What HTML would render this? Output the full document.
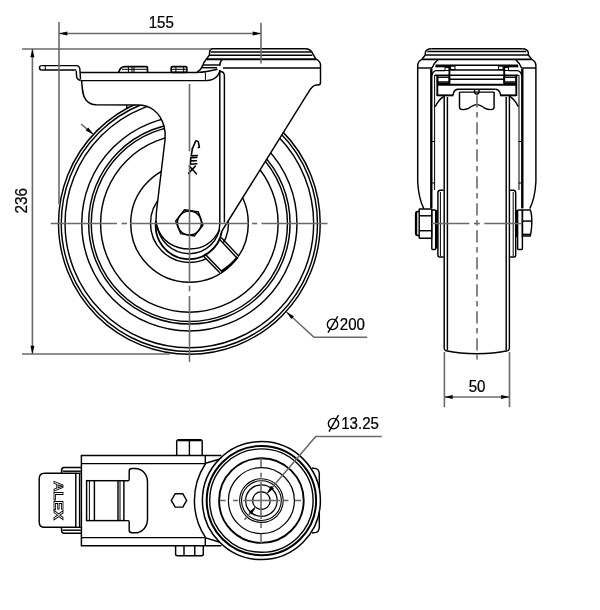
<!DOCTYPE html>
<html><head><meta charset="utf-8"><title>Castor drawing</title>
<style>
html,body{margin:0;padding:0;background:#fff;width:600px;height:610px;overflow:hidden}
svg{display:block;will-change:transform}
.k{stroke:#000;stroke-width:1.45;fill:none}
.kt{stroke:#000;stroke-width:1.9;fill:none}
.kn{stroke:#000;stroke-width:1;fill:none}
.w{fill:#fff;stroke:none}
.e{stroke:#6a6a6a;stroke-width:1.6;fill:none}
.dl{stroke:#6a6a6a;stroke-width:1.6;fill:none}
.c{stroke:#6a6a6a;stroke-width:1.6;fill:none}
.t{font-family:"Liberation Sans",sans-serif;font-size:15.8px;fill:#000;stroke:#000;stroke-width:0.25px}
</style></head>
<body>
<svg width="600" height="610" viewBox="0 0 600 610">
<defs>
  <path id="ah" d="M0,0 L-8.3,-2 L-8.3,2 Z" fill="#000"/>
</defs>

<!-- ================= SIDE VIEW ================= -->
<g id="wheel">
  <circle class="k" cx="189.35" cy="223.4" r="130.85"/>
  <circle class="k" cx="189.35" cy="223.4" r="128.1"/>
  <circle class="k" cx="189.35" cy="223.4" r="124.3"/>
  <circle class="k" cx="189.35" cy="223.4" r="107.6"/>
  <circle class="k" cx="189.35" cy="223.4" r="100.7"/>
  <circle class="k" cx="189.35" cy="223.4" r="98.1"/>
  <circle class="k" cx="189.35" cy="223.4" r="88.75"/>
  <circle class="k" cx="189.5" cy="223.4" r="58.8"/>
  <circle class="k" cx="189.5" cy="223.4" r="39"/>
</g>

<!-- fork occluder -->
<path class="w" d="M80.5,72 L81.6,80.6 C82.4,90 82.5,96 86,100 C88.5,103 91,104.6 96,104.8 L138,105 C150,105 160,112 164,126 C165.6,132 165.4,136 165,140 L156.4,212 L155.9,222.2 A33.3,33.3 0 0 0 221.9,231 L308,93 C310,89.5 312,85.5 316,85 L320.5,85 L320.5,64 C320,61 318.5,60 316,59.2 L312.8,54 C311,50 308,48.7 304.8,48.7 L212.7,48.7 C210.5,49 209.7,50.5 209.7,52 L209.3,55.3 L206.3,59.3 C204.5,62 203,64.7 203,64.7 L200,70.7 L197,72 Z"/>

<!-- plate & tab -->
<path class="k" d="M41.5,65.6 L76.2,65.6 C78.5,65.6 80,67.5 80,70.8 L80.5,79.5"/>
<path class="k" d="M41.5,70 L75.6,70 C76.2,70.5 76.2,71 76.2,70.8 L76.7,77.3 C77.2,79 78.5,80 80.5,80.5"/>
<path class="k" d="M41.5,65.6 C40,65.6 39.5,66.5 39.5,67.8 C39.5,69.2 40,70 41.5,70"/>
<line class="kn" x1="45.3" y1="65.6" x2="45.3" y2="70"/>
<line class="k" x1="80.5" y1="72.4" x2="198.3" y2="72.4"/>
<line class="k" x1="80.5" y1="80.6" x2="205.8" y2="80.6"/>
<!-- leg left outline -->
<path class="k" d="M81.6,80.6 C82.4,90 82.5,96 86,100 C88.5,103 91,104.6 96,104.8 L138,105 C150,105 160,112 164,126 C165.6,132 165.4,136 165,140 L156.4,212 L155.9,222.2"/>
<line class="k" x1="126.6" y1="105" x2="126.9" y2="108.6"/>
<!-- plate end curling up into housing -->
<path class="k" d="M198.3,72.4 C203,72.2 210,71 217.5,69.2"/>
<path class="k" d="M205.8,80.6 C210,80.6 215,79 217.5,75.8 C219,73.5 220,71.5 220,70"/>
<line class="kn" x1="205.4" y1="72.4" x2="205.4" y2="80.6"/>
<line class="k" x1="203" y1="65" x2="220.3" y2="65"/>
<line class="k" x1="202" y1="67.7" x2="217" y2="67.7"/>

<!-- bolts on plate -->
<path stroke="#000" stroke-width="1.7" fill="none" d="M118.5,72.4 C119.5,69 121.5,66.6 125,66.6 L146.5,66.6 C147.3,66.6 147.5,67.5 147.5,68 L147.5,72.4"/>
<line class="kn" x1="122" y1="69.3" x2="147.5" y2="69.3"/>
<line class="kn" x1="128.4" y1="66.6" x2="128.4" y2="72.4"/>
<line class="kn" x1="132" y1="66.6" x2="132" y2="72.4"/>
<line class="kn" x1="134" y1="66.6" x2="134" y2="72.4"/>
<rect stroke="#000" stroke-width="1.7" fill="none" x="171.2" y="66.6" width="15.6" height="5.8" rx="1.2"/>
<line class="kn" x1="175.9" y1="66.6" x2="175.9" y2="72.4"/>
<line class="kn" x1="183.7" y1="66.6" x2="183.7" y2="72.4"/>
<line class="kn" x1="171.2" y1="69.3" x2="186.8" y2="69.3"/>

<!-- housing cap -->
<path class="k" d="M206.3,59.3 L209.3,55.3 L209.7,52 C209.7,50.2 210.8,48.7 212.7,48.7 L304.8,48.7 C309,48.7 312,51 312.8,54 L316,59.2"/>
<line class="k" x1="211" y1="52" x2="311.2" y2="52"/>
<line class="k" x1="209.3" y1="55.3" x2="312.3" y2="55.3"/>
<line class="kt" x1="206.3" y1="59.3" x2="316" y2="59.3"/>
<path class="k" d="M206.3,59.3 C204.5,61.5 203.5,63 203,64.7 C202,67.5 201,69.8 197,72.2"/>
<path class="k" d="M316,59.2 C318.5,60.5 320.5,62 320.5,65 L320.5,82.5 C320.5,84.2 319.5,85 318,85 L316,85 C312,85.5 310,89.5 308,93 L221.9,231"/>
<line class="k" x1="223" y1="68" x2="320.5" y2="68"/>
<path class="k" d="M222.3,59.5 C220.5,61 219.7,63 219.7,65.7"/>
<!-- fork front edge (bend) -->
<path class="k" d="M219.8,70 L219.8,223.4 A30.3,30.3 0 0 1 189.5,253.7 C172,253.7 158.5,241 156.3,222.5"/>
<path class="k" d="M220,71.5 C222.5,71.5 224.4,73 224.4,76 L224.4,222.5"/>

<!-- rib at lower right of hub -->
<path class="w" d="M219,238.8 L238.6,255.9 L237.7,257.1 A58.8,58.8 0 0 1 221.2,271.5 L219.8,272.8 L202.9,255.4 L204.7,253.7 Z"/>
<line class="k" x1="219" y1="238.8" x2="236.5" y2="257.5"/>
<line class="k" x1="221.2" y1="237.6" x2="238.6" y2="255.9"/>
<line class="k" x1="204.7" y1="253.7" x2="221.6" y2="271.2"/>
<line class="k" x1="202.9" y1="255.4" x2="219.8" y2="272.8"/>
<path stroke="#000" stroke-width="2.4" fill="none" d="M221.2,271.5 A58.8,58.8 0 0 0 237.7,257.1"/>

<!-- hub arcs (leg bottom) -->
<path stroke="#000" stroke-width="1.8" fill="none" d="M156.2,221 L155.9,222.2 A33.3,33.3 0 0 0 221.9,231"/>
<path class="k" d="M157,226 C161,241 174,249 189.5,249 C204,249 214,241 219.8,229.5"/>
<!-- hex nut -->
<polygon class="k" points="184.5,209.7 198.3,212 203,225 194.3,236 180.7,233.7 175.7,221"/>
<circle class="k" cx="189.4" cy="223" r="12"/>

<!-- ALEX logo on leg -->
<g stroke="#000" stroke-width="1.6" fill="none" stroke-linejoin="round" stroke-linecap="round">
  <path d="M192.4,148.6 L195.8,140.8 L198.2,141.5 L199.4,147.2 L198.4,147.6"/>
  <path d="M192.4,148.6 L191.2,155.8 L197.4,155.5"/>
  <path d="M196.8,157.4 L190.8,157.6 L190.4,164.2 L196.8,163.8 M190.8,160.9 L196.3,160.7"/>
  <path d="M189.3,166 L196.4,173.8 M195.4,166 L188.6,173.4"/>
</g>

<!-- centerlines side view -->
<g class="c">
  <line x1="50.8" y1="223.5" x2="117" y2="223.5"/>
  <line x1="121.5" y1="223.5" x2="127" y2="223.5"/>
  <line x1="129.8" y1="223.5" x2="248.8" y2="223.5"/>
  <line x1="252" y1="223.5" x2="257.2" y2="223.5"/>
  <line x1="261.4" y1="223.5" x2="327.6" y2="223.5"/>
  <line x1="189.5" y1="84" x2="189.5" y2="151.4"/>
  <line x1="189.5" y1="164.6" x2="189.5" y2="282.3"/>
  <line x1="189.5" y1="285.7" x2="189.5" y2="291.3"/>
  <line x1="189.5" y1="296.1" x2="189.5" y2="361.8"/>
</g>

<!-- ================= RIGHT VIEW ================= -->
<g id="rvL">
  <!-- cap left end -->
  <path class="k" d="M431.3,48.7 C428,48.7 425.3,50.5 425.3,52.7 L425.3,55 L422,59.3"/>
  <!-- outer leg -->
  <path class="k" d="M422,59.3 C419,60.5 417.7,62.5 417.7,66 L417.7,182 C418.5,196 421,203 423.8,208.6"/>
  <line class="k" x1="417.7" y1="68" x2="432" y2="68"/>
  <path class="k" d="M432,68 C433.5,64.5 435,62 438,59.6"/>
  <line stroke="#000" stroke-width="2.4" x1="431.3" y1="68.5" x2="431.3" y2="208.4"/>
  <line class="kn" x1="434.6" y1="75" x2="434.6" y2="190"/>
  <line class="kn" x1="432" y1="141.5" x2="435" y2="141.5"/>
  <line class="kn" x1="432" y1="183" x2="435" y2="183"/>
  <!-- mechanism (left part) -->
  <line class="k" x1="435.3" y1="66.6" x2="449.4" y2="66.6"/>
  <rect class="kn" x="445" y="67.6" width="4.4" height="2.9"/>
  <rect class="kn" x="450.6" y="66.2" width="4.4" height="3.3"/>
  <path class="k" d="M431.8,75.5 C432.5,72.5 434,70.8 436.5,70.6 L445,70.6"/>
  <rect class="k" x="437.6" y="77.2" width="11.8" height="4.8"/>
  <line class="k" x1="437.6" y1="83.3" x2="449.4" y2="83.3"/>
  <line class="kt" x1="449.4" y1="66" x2="449.4" y2="85"/>
  <line class="kt" x1="437.3" y1="75.5" x2="437.3" y2="96"/>
  <!-- lower block -->
  <path class="k" d="M437.3,95.5 L452.8,95.5 L453.7,92.5 C454.5,90.5 455.8,89.4 458,89.2"/>
  <line stroke="#000" stroke-width="1.6" x1="437.3" y1="95.3" x2="452.8" y2="95.3"/>
  <path class="k" d="M459.5,92.1 L459.5,107.3 C459.5,108.8 460.8,109.6 462.8,109.6 C465,109.6 467,109.2 468.5,108.4 C471,106.5 473.5,104.6 476.8,104.6"/>
  <!-- tyre -->
  <path class="k" d="M435.3,106.7 C437.5,102 440.5,98.5 444.2,96.2"/>
  <path class="k" d="M444.2,96.2 L444.2,348 C444.2,350 445,350.5 446,350.8"/>
  <line class="k" x1="447.4" y1="97" x2="447.4" y2="350.2"/>
  <!-- hub boss, washer, nut -->
  <path class="k" d="M443.5,257 L439.5,257 C438.5,257 437.9,256 437.9,255 L437.9,193 C437.9,191.2 438.8,190.3 440.3,190.3 L443.5,190.3"/>
  <line class="kn" x1="440.4" y1="192" x2="440.4" y2="256"/>
</g>
<use href="#rvL" xlink:href="#rvL" transform="translate(953.6,0) scale(-1,1)"/>
<!-- right view: nuts & washers -->
<g>
  <rect class="k" x="431.8" y="209.9" width="3.9" height="39.5" rx="0.8"/>
  <line stroke="#000" stroke-width="2" x1="436.7" y1="209.9" x2="436.7" y2="248.5"/>
  <rect class="k" x="419.2" y="208.9" width="12.5" height="29.3" rx="0.6"/>
  <line class="k" x1="419.2" y1="215.8" x2="431.7" y2="215.8"/>
  <line class="k" x1="419.2" y1="230.7" x2="431.7" y2="230.7"/>
  <path class="k" d="M419.2,211.5 L417.8,211.5 C416.4,211.5 415.6,212.6 415.6,214 L415.6,233 C415.6,234.4 416.4,235.5 417.8,235.5 L419.2,235.5"/>
  <line stroke="#000" stroke-width="1.3" x1="416.6" y1="212" x2="416.6" y2="235"/>
  <!-- right side -->
  <rect class="k" x="517.6" y="209.9" width="4.8" height="39.5" rx="0.8"/>
  <line stroke="#000" stroke-width="2" x1="517" y1="209.9" x2="517" y2="237"/>
  <path class="k" d="M522.4,209.9 L530.2,209.9 C531.3,212 531.8,216 531.8,221 C531.8,227 531.3,232 530.2,236 L522.4,236 Z"/>
  <line class="k" x1="522.4" y1="221.1" x2="531.8" y2="221.1"/>
  <line class="k" x1="522.4" y1="234.4" x2="530.6" y2="234.4"/>
</g>
<!-- right view: full-width elements -->
<g>
  <line class="k" x1="431.3" y1="48.7" x2="522.3" y2="48.7"/>
  <line class="k" x1="427.3" y1="51.5" x2="526.3" y2="51.5"/>
  <line class="k" x1="425.3" y1="55" x2="528.3" y2="55"/>
  <line class="kt" x1="422" y1="59.4" x2="531.6" y2="59.4"/>
  <line class="k" x1="435.5" y1="65.3" x2="518.1" y2="65.3"/>
  <line class="k" x1="449.4" y1="70" x2="504.2" y2="70"/>
  <line class="k" x1="435" y1="75.3" x2="518.6" y2="75.3"/>
  <line class="k" x1="449.4" y1="79.2" x2="504.2" y2="79.2"/>
  <line class="kt" x1="437" y1="84.8" x2="516.6" y2="84.8"/>
  <line class="k" x1="458" y1="89.2" x2="495.6" y2="89.2"/>
  <line class="k" x1="459.5" y1="92.1" x2="494.1" y2="92.1"/>
  <path class="k" d="M474.6,89.6 L474.6,91.6 A2.2,2.6 0 0 0 479,91.6 L479,89.6"/>
  <path class="k" d="M446,350.8 C456,353 466,353.8 476.8,353.8 C487.6,353.8 497.6,353 507.6,350.8"/>
</g>
<g class="c">
  <line x1="477" y1="95.2" x2="477" y2="359.5" stroke-dasharray="12.3 4.6 5.5 4.6"/>
  <line x1="431.8" y1="223.5" x2="469.4" y2="223.5"/>
  <line x1="473.9" y1="223.5" x2="479.8" y2="223.5"/>
  <line x1="484.2" y1="223.5" x2="521.8" y2="223.5"/>
</g>

<!-- ================= BOTTOM VIEW ================= -->
<g id="bottom">
  <!-- body -->
  <path class="k" d="M221.3,455.4 L81.4,455.4 L81.4,545.8 L221.3,545.8"/>
  <line class="k" x1="81.4" y1="463.6" x2="205.3" y2="463.6"/>
  <line class="k" x1="81.4" y1="537.6" x2="205.3" y2="537.6"/>
  <line class="k" x1="205.3" y1="455.4" x2="205.3" y2="463.6"/>
  <line class="k" x1="205.3" y1="537.6" x2="205.3" y2="545.8"/>
  <path class="k" d="M205.6,463.3 L220,459"/>
  <path class="k" d="M205.6,537.9 L220,542.2"/>
  <path class="k" d="M205.6,463.5 A67.1,67.1 0 0 0 205.6,537.7"/>
  <!-- pedal -->
  <path class="k" d="M81.4,467.5 L64,467.5 C62.3,467.5 61.5,469 61.5,471 L61.5,473.3"/>
  <line class="k" x1="62.5" y1="471.2" x2="80.8" y2="471.2"/>
  <path class="k" d="M81.4,533.3 L64,533.3 C62.3,533.3 61.5,531.8 61.5,529.8 L61.5,527.5"/>
  <line class="k" x1="62.5" y1="530.2" x2="80.8" y2="530.2"/>
  <path class="k" fill="#fff" d="M75.8,473.3 L44.5,473.3 C41,473.3 39.2,475.5 39.2,479 L39.2,522 C39.2,525.5 41,527.3 44.5,527.3 L75.8,527.3 Z"/>
  <line class="k" x1="75.8" y1="473.3" x2="80.8" y2="473.3"/>
  <line class="k" x1="75.8" y1="527.3" x2="80.8" y2="527.3"/>
  <line class="k" x1="79.6" y1="473.3" x2="79.6" y2="527.3"/>
  <!-- ALEX on pedal -->
  <text transform="translate(53.5,481) rotate(90)" font-family="Liberation Sans, sans-serif" font-weight="bold" font-size="13" fill="#fff" stroke="#000" stroke-width="0.85" textLength="39" lengthAdjust="spacingAndGlyphs">ALEX</text>
  <!-- brake mechanism -->
  <rect class="k" x="86.6" y="480.7" width="37.3" height="39.9"/>
  <line class="kn" x1="89.4" y1="480.7" x2="89.4" y2="520.6"/>
  <line class="k" x1="94.4" y1="480.7" x2="94.4" y2="520.6"/>
  <line class="k" x1="118" y1="480.7" x2="118" y2="520.6"/>
  <line class="kn" x1="120" y1="480.7" x2="120" y2="520.6"/>
  <path class="k" d="M123.9,480.7 L128.2,480.7 C129,480.7 129.2,480 129.2,479 L129.2,471 C129.2,469.3 130,468.5 132,468.5 L135,468.5 C142,468.5 147.5,474 147.5,482 L147.5,519 C147.5,527 142,532.8 135,532.8 L132,532.8 C130,532.8 129.2,532 129.2,530.3 L129.2,522 C129.2,521 129,520.6 128.2,520.6 L123.9,520.6"/>
  <!-- small hex -->
  <polygon class="k" points="186.7,500.4 182.8,507.1 175.2,507.1 171.3,500.4 175.2,493.7 182.8,493.7"/>
  <!-- nuts -->
  <path class="k" d="M176.7,455.4 L176.7,441.5 C176.7,440.3 177.5,439.6 178.7,439.6 L200.2,439.6 C201.4,439.6 202.2,440.3 202.2,441.5 L202.2,455.4"/>
  <line stroke="#000" stroke-width="2" x1="178" y1="440.3" x2="201" y2="440.3"/>
  <line class="k" x1="189.4" y1="439.6" x2="189.4" y2="455.4"/>
  <path class="k" d="M175.6,545.8 L175.6,554 C175.6,555.2 176.3,555.8 177.5,555.8 L201.4,555.8 C202.6,555.8 203.3,555.2 203.3,554 L203.3,545.8"/>
  <line class="k" x1="184" y1="545.8" x2="184" y2="555.8"/>
  <line class="k" x1="194.8" y1="545.8" x2="194.8" y2="555.8"/>
  <!-- right tab -->
  <path class="k" d="M312,468 L316,468.6 C317.8,469 319.2,471 319.3,474 L319.3,527 C319.2,530 317.8,532 316,532.4 L312,533"/>
  <!-- wheel circles -->
  <circle cx="261.4" cy="500.6" r="59" fill="#fff" stroke="#000" stroke-width="1.5"/>
  <circle cx="261.4" cy="500.6" r="54.7" fill="none" stroke="#000" stroke-width="2"/>
  <circle cx="261.4" cy="500.6" r="51.7" fill="none" stroke="#000" stroke-width="1.4"/>
  <circle cx="261.4" cy="500.6" r="42.3" fill="none" stroke="#000" stroke-width="1.9"/>
  <circle cx="261.4" cy="500.6" r="33" fill="none" stroke="#000" stroke-width="1.2"/>
  <circle cx="261.4" cy="500.6" r="21.8" fill="none" stroke="#000" stroke-width="1.1"/>
  <circle cx="261.4" cy="500.6" r="19.9" fill="none" stroke="#000" stroke-width="1.1"/>
  <circle cx="261.4" cy="500.6" r="15.8" fill="none" stroke="#000" stroke-width="1.3"/>
  <circle cx="261.4" cy="500.6" r="8.85" fill="none" stroke="#000" stroke-width="1.3"/>
  <g class="c">
    <line x1="261" y1="458.2" x2="261" y2="467.2"/>
    <line x1="261" y1="472.8" x2="261" y2="477.5"/>
    <line x1="261" y1="482" x2="261" y2="519"/>
    <line x1="261" y1="523.3" x2="261" y2="528"/>
    <line x1="261" y1="533.8" x2="261" y2="543.2"/>
    <line x1="219.9" y1="500.5" x2="225.7" y2="500.5"/>
    <line x1="233" y1="500.5" x2="238" y2="500.5"/>
    <line x1="242.9" y1="500.5" x2="279.9" y2="500.5"/>
    <line x1="283.5" y1="500.5" x2="288.5" y2="500.5"/>
    <line x1="295" y1="500.5" x2="301" y2="500.5"/>
  </g>
</g>

<!-- ================= DIMENSIONS ================= -->
<g>
  <line class="e" x1="59" y1="22" x2="59" y2="204.5"/>
  <line class="e" x1="261" y1="22.8" x2="261" y2="63.6"/>
  <line class="dl" x1="59" y1="33.5" x2="261" y2="33.5"/>
  <use href="#ah" xlink:href="#ah" transform="translate(59,33.5) rotate(180)"/>
  <use href="#ah" xlink:href="#ah" transform="translate(261,33.5)"/>
  <text class="t" transform="translate(161.3,28.1) scale(0.955,1)" text-anchor="middle">155</text>

  <line class="e" x1="22" y1="49" x2="211" y2="49"/>
  <line class="e" x1="22" y1="354" x2="170" y2="354"/>
  <line class="dl" x1="32.4" y1="49" x2="32.4" y2="354"/>
  <use href="#ah" xlink:href="#ah" transform="translate(32.4,49) rotate(-90)"/>
  <use href="#ah" xlink:href="#ah" transform="translate(32.4,354) rotate(90)"/>
  <text class="t" transform="translate(27.3,200.7) rotate(-90) scale(0.955,1)" text-anchor="middle" style="font-size:16px">236</text>

  <!-- dia 200 -->
  <line class="dl" x1="81" y1="124" x2="93.3" y2="134.3"/>
  <use href="#ah" xlink:href="#ah" transform="translate(93.3,134.3) rotate(40)"/>
  <path class="dl" d="M286.5,312 L314,337.3 L367.2,337.3"/>
  <use href="#ah" xlink:href="#ah" transform="translate(286.5,312) rotate(222.6)"/>
  <circle cx="332.5" cy="324.4" r="5.2" fill="none" stroke="#000" stroke-width="1.35"/>
  <line x1="328" y1="332.6" x2="337.7" y2="316.4" stroke="#000" stroke-width="1.35"/>
  <text class="t" transform="translate(339.8,329.9) scale(0.955,1)">200</text>

  <!-- 50 -->
  <line class="e" x1="444.4" y1="352" x2="444.4" y2="407.2"/>
  <line class="e" x1="509.5" y1="352" x2="509.5" y2="407.2"/>
  <line class="dl" x1="444.4" y1="397" x2="509.5" y2="397"/>
  <use href="#ah" xlink:href="#ah" transform="translate(444.4,397) rotate(180)"/>
  <use href="#ah" xlink:href="#ah" transform="translate(509.5,397)"/>
  <text class="t" transform="translate(477.1,392.2) scale(0.955,1)" text-anchor="middle">50</text>

  <!-- dia 13.25 -->
  <path class="dl" d="M267,493.4 L315.7,436.5 L381.7,436.5"/>
  <line class="dl" x1="244.5" y1="519.7" x2="255.6" y2="507"/>
  <use href="#ah" xlink:href="#ah" transform="translate(267,493.4) rotate(130.6)"/>
  <use href="#ah" xlink:href="#ah" transform="translate(255.6,507) rotate(-49.4)"/>
  <circle cx="333.5" cy="423.6" r="5.2" fill="none" stroke="#000" stroke-width="1.35"/>
  <line x1="329" y1="431.6" x2="338.5" y2="415.1" stroke="#000" stroke-width="1.35"/>
  <text class="t" transform="translate(341.2,428.9) scale(0.955,1)">13.25</text>
</g>

</svg>
</body></html>
